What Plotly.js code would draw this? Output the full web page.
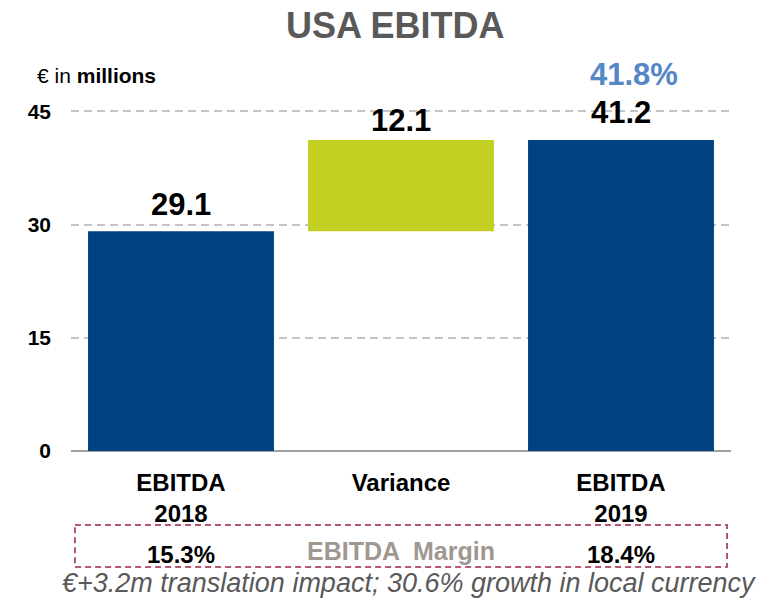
<!DOCTYPE html>
<html>
<head>
<meta charset="utf-8">
<script src="https://cdn.plot.ly/plotly-3.0.1.min.js"></script>
<style>html,body{margin:0;padding:0;background:#fff;}#chart{width:769px;height:600px;}</style>
</head>
<body>
<div id="chart"></div>
<script>
// Data
var categories = ["EBITDA<br>2018", "Variance", "EBITDA<br>2019"];
var values = [29.1, 12.1, 41.2];
var bases = [0, 29.1, 0];
var barLabels = ["29.1", "12.1", "41.2"];
var margins = ["15.3%", "", "18.4%"];
var growthLabel = "41.8%";
var yTicks = [0, 15, 30, 45];

var FONT = "Liberation Sans, Arial, sans-serif";
var blue = "#00427F";
var green = "#C4D021";

var trace = {
  type: "bar",
  x: categories,
  y: values,
  base: bases,
  width: 0.845,
  marker: {color: [blue, green, blue], line: {width: 0}},
  hoverinfo: "none"
};

var labelShift = [7, 0, 8];
var annotations = [];
barLabels.forEach(function (t, i) {
  annotations.push({xref: "x", yref: "y", x: categories[i], y: bases[i] + values[i],
    yanchor: "bottom", yshift: labelShift[i], text: "<b>" + t + "</b>", showarrow: false,
    font: {family: FONT, size: 31, color: "#000"}});
});
annotations.push(
  {xref: "paper", yref: "paper", x: -0.0545, y: 1.097, xanchor: "left", yanchor: "middle",
   text: "€ in <b>millions</b>", showarrow: false, font: {family: FONT, size: 21, color: "#000"}},
  {xref: "x", yref: "paper", x: categories[2], xshift: 13, y: 1.1, yanchor: "middle",
   text: "<b>" + growthLabel + "</b>", showarrow: false, font: {family: FONT, size: 31, color: "#5586C6"}},
  {xref: "paper", yref: "paper", x: 0.5, y: -0.2915, yanchor: "middle",
   text: "<b>EBITDA  Margin</b>", showarrow: false, font: {family: FONT, size: 25, color: "#A09890"}},
  {xref: "paper", yref: "paper", x: 0.512, y: -0.386, yanchor: "middle",
   text: "<i>€+3.2m translation impact; 30.6% growth in local currency</i>", showarrow: false,
   font: {family: FONT, size: 27, color: "#595959"}}
);
margins.forEach(function (m, i) {
  if (m) {
    annotations.push({xref: "x", yref: "paper", x: categories[i], y: -0.3023, yanchor: "middle",
      text: "<b>" + m + "</b>", showarrow: false, font: {family: FONT, size: 24, color: "#000"}});
  }
});

var layout = {
  width: 769, height: 600,
  margin: {l: 71, r: 38, t: 109, b: 149},
  paper_bgcolor: "#fff", plot_bgcolor: "#fff",
  showlegend: false,
  title: {text: "<b>USA EBITDA</b>", x: 0.514, xref: "container", y: 0.958, yref: "container",
    xanchor: "center", yanchor: "middle", font: {family: FONT, size: 36, color: "#595959"}},
  xaxis: {
    type: "category", range: [-0.5, 2.5], showgrid: false, zeroline: false, showline: false,
    ticks: "", tickfont: {family: FONT, size: 24, color: "#000", weight: "bold"},
    ticklabelstandoff: 15, fixedrange: true
  },
  yaxis: {
    range: [0, 45.3], tickvals: yTicks, ticktext: yTicks.map(String),
    showgrid: true, gridcolor: "#C4C4C4", griddash: "8px,5px", gridwidth: 2,
    zeroline: true, zerolinecolor: "#A0A0A0", zerolinewidth: 2,
    showline: false, ticks: "", ticklabelstandoff: 19,
    tickfont: {family: FONT, size: 21, color: "#000", weight: "bold"}, fixedrange: true
  },
  shapes: [{
    type: "rect", xref: "paper", yref: "paper", x0: 0.006, x1: 0.994, y0: -0.2164, y1: -0.3392,
    line: {color: "#A0204A", width: 1.5, dash: "6px,4px"}, fillcolor: "rgba(0,0,0,0)"
  }],
  annotations: annotations
};

Plotly.newPlot("chart", [trace], layout, {displayModeBar: false, staticPlot: true});
</script>
</body>
</html>
